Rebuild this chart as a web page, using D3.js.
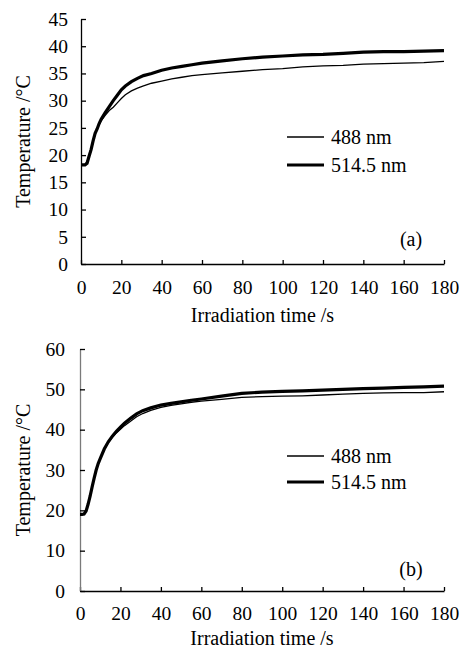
<!DOCTYPE html>
<html><head><meta charset="utf-8">
<script src="https://cdn.jsdelivr.net/npm/d3@7"></script>
<style>
html,body{margin:0;padding:0;background:#fff;}
</style></head>
<body><svg id="c" width="465" height="656"></svg>
<script>
// Time points (s)
const time = [0,1,2,3,4,5,6,7,8,9,10,12,14,16,18,20,22,25,28,31,35,40,45,50,55,60,70,80,90,100,110,120,130,140,150,160,170,180];
// Panel (a)
const a488 = [18.2,18.2,18.3,18.8,20.0,21.2,22.6,23.8,24.8,25.6,26.3,27.3,28.2,28.8,29.6,30.4,31.1,31.8,32.3,32.7,33.2,33.6,34.0,34.3,34.6,34.8,35.1,35.4,35.7,35.9,36.2,36.4,36.5,36.7,36.8,36.9,37.0,37.2];
const a5145 = [18.2,18.2,18.2,18.5,19.8,21.0,22.6,24.0,24.8,25.8,26.6,27.8,28.9,30.0,31.0,32.0,32.7,33.5,34.1,34.6,35.0,35.6,36.0,36.3,36.6,36.9,37.3,37.7,38.0,38.2,38.4,38.5,38.7,38.9,39.0,39.0,39.1,39.2];
// Panel (b)
const b488 = [19.0,19.0,19.1,19.8,21.5,23.5,25.8,28.0,30.0,31.6,32.8,35.1,36.8,38.1,39.2,40.1,41.0,42.1,43.2,44.0,44.8,45.5,46.0,46.4,46.8,47.1,47.5,48.0,48.2,48.3,48.4,48.6,48.8,49.0,49.1,49.2,49.2,49.4];
const b5145 = [19.0,19.0,19.1,19.8,21.5,23.5,25.8,28.0,30.0,31.6,32.8,35.2,37.0,38.4,39.6,40.6,41.6,42.8,43.9,44.7,45.4,46.1,46.5,46.9,47.3,47.6,48.3,49.0,49.3,49.5,49.6,49.8,50.0,50.2,50.3,50.5,50.6,50.8];
const xTicks = [0,20,40,60,80,100,120,140,160,180];
const aYTicks = [0,5,10,15,20,25,30,35,40,45];
const bYTicks = [0,10,20,30,40,50,60];
const seriesNames = ["488 nm","514.5 nm"];
const panelLabels = ["(a)","(b)"];
const xTitle = "Irradiation time /s";
const yTitle = "Temperature /°C";

const FONT = "'Liberation Serif', 'Times New Roman', serif";
const svg = d3.select("#c");

function panel(cfg){
  const g = svg.append("g").attr("font-family", FONT);
  const x = d3.scaleLinear().domain([0,180]).range([cfg.x0, cfg.x1]);
  const y = d3.scaleLinear().domain([0,cfg.ymax]).range([cfg.y0, cfg.y1]);
  const xa = g.append("g").attr("transform",`translate(0,${cfg.y0})`)
    .call(d3.axisBottom(x).tickValues(xTicks).tickSizeInner(-4).tickSizeOuter(0).tickPadding(cfg.xpad));
  const ya = g.append("g").attr("transform",`translate(${cfg.x0},0)`)
    .call(d3.axisLeft(y).tickValues(cfg.yticks).tickSizeInner(-5).tickSizeOuter(0).tickPadding(cfg.ypad));
  [xa,ya].forEach(a=>{
    a.attr("font-family", FONT).attr("font-size", 19.5);
    a.selectAll("text").style("font-family", FONT).style("font-size","19.5px").attr("fill","#000");
    a.selectAll("line").attr("stroke","#000").attr("stroke-width",1.3);
    a.select(".domain").attr("stroke","#000").attr("stroke-width",1.3);
  });
  if(cfg.ygray){ ya.select(".domain").attr("stroke","#7a7a7a"); }
  const line = d3.line().x((d,i)=>x(time[i])).y(d=>y(d));
  g.append("path").datum(cfg.s1).attr("d",line).attr("fill","none").attr("stroke","#000").attr("stroke-width",1.3);
  g.append("path").datum(cfg.s2).attr("d",line).attr("fill","none").attr("stroke","#000").attr("stroke-width",3.2);
  // legend
  const widths=[1.3,3.2];
  cfg.leg.forEach((ly,i)=>{
    g.append("line").attr("x1",287).attr("x2",324).attr("y1",ly).attr("y2",ly).attr("stroke","#000").attr("stroke-width",widths[i]);
    g.append("text").attr("x",331).attr("y",ly).attr("dy","0.35em").style("font-family",FONT).style("font-size","20px").text(seriesNames[i]);
  });
  g.append("text").attr("x",411).attr("y",cfg.lab).style("font-family",FONT).style("font-size","20px").attr("text-anchor","middle").text(cfg.label);
  g.append("text").attr("x",(cfg.x0+cfg.x1)/2).attr("y",cfg.y0+cfg.tbase).style("font-family",FONT).style("font-size","20px").attr("text-anchor","middle").text(xTitle);
  g.append("text").attr("transform",`translate(30,${(cfg.y0+cfg.y1)/2}) rotate(-90)`).style("font-family",FONT).style("font-size","20px").attr("text-anchor","middle").text(yTitle);
}

panel({x0:81,x1:444,y0:264,y1:19,ymax:45,yticks:aYTicks,s1:a488,s2:a5145,leg:[137,165],lab:246,label:panelLabels[0],xpad:16,ypad:13,tbase:58,ygray:false});
panel({x0:80,x1:444,y0:591,y1:349,ymax:60,yticks:bYTicks,s1:b488,s2:b5145,leg:[456,482],lab:576,label:panelLabels[1],xpad:15,ypad:15,tbase:54,ygray:true});
</script></body></html>
